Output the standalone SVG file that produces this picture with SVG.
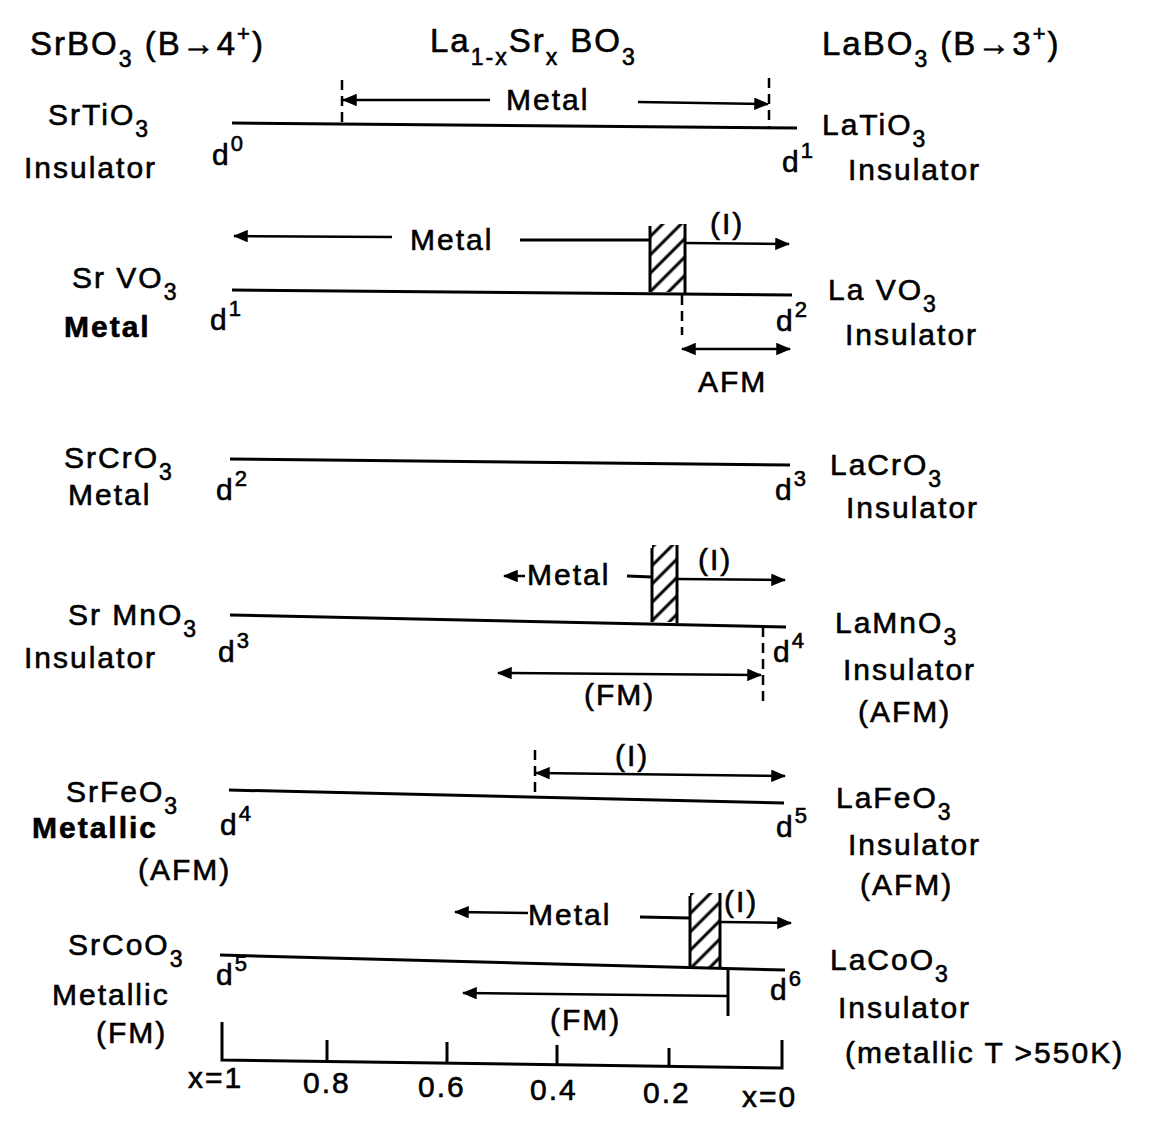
<svg xmlns="http://www.w3.org/2000/svg" width="1151" height="1123" viewBox="0 0 1151 1123">
<style>
text{font-family:"Liberation Sans","DejaVu Sans",sans-serif;font-size:30px;fill:#000;letter-spacing:2px;stroke:#000;stroke-width:0.6}
.hd{font-size:33px}
.sub{font-size:23px}
.sup{font-size:22px}
.ln{stroke:#000;stroke-width:3;fill:none}
.dash{stroke:#000;stroke-width:2.5;fill:none;stroke-dasharray:10 6}
.arr{stroke:#000;stroke-width:2.5;fill:none;marker-end:url(#ah)}
.arr2{stroke:#000;stroke-width:2.5;fill:none;marker-end:url(#ah);marker-start:url(#ah)}
.hatch{fill:url(#hp);stroke:none}
</style>
<defs>
<marker id="ah" viewBox="0 0 12 10" refX="11" refY="5" markerWidth="6" markerHeight="5" orient="auto-start-reverse" markerUnits="strokeWidth">
<path d="M0,0 L12,5 L0,10 z" fill="#000"/>
</marker>
<pattern id="hp" patternUnits="userSpaceOnUse" width="13" height="13" patternTransform="rotate(45)">
<line x1="3" y1="0" x2="3" y2="13" stroke="#000" stroke-width="3"/>
</pattern>
</defs>
<rect width="1151" height="1123" fill="#fff"/>

<g id="header">
<text class="hd" x="30" y="55">SrBO<tspan class="sub" dy="12">3</tspan><tspan dy="-12"> (B→4</tspan><tspan class="sup" dy="-14">+</tspan><tspan dy="14">)</tspan></text>
<text class="hd" x="430" y="52">La<tspan class="sub" dy="13">1-x</tspan><tspan dy="-13">Sr</tspan><tspan class="sub" dy="13">x</tspan><tspan dy="-13"> BO</tspan><tspan class="sub" dy="13">3</tspan></text>
<text class="hd" x="822" y="55">LaBO<tspan class="sub" dy="12">3</tspan><tspan dy="-12"> (B→3</tspan><tspan class="sup" dy="-14">+</tspan><tspan dy="14">)</tspan></text>
</g>

<g id="connectors">
<!-- Ti row -->
<line class="ln" x1="232" y1="123" x2="797" y2="128"/>
<line class="dash" x1="342" y1="80" x2="342" y2="123"/>
<line class="dash" x1="769" y1="78" x2="769" y2="127"/>
<line class="arr" x1="490" y1="100" x2="343" y2="100"/>
<line class="arr" x1="638" y1="102" x2="768" y2="104"/>
<!-- V row -->
<line class="arr" x1="392" y1="237" x2="234" y2="236"/>
<line class="ln" x1="520" y1="240" x2="650" y2="240"/>
<line class="arr" x1="685" y1="243" x2="789" y2="244"/>
<line class="ln" x1="232" y1="290" x2="792" y2="295"/>
<line class="dash" x1="682" y1="295" x2="682" y2="335"/>
<line class="arr2" x1="682" y1="349" x2="790" y2="349"/>
<!-- Cr row -->
<line class="ln" x1="230" y1="459" x2="790" y2="465"/>
<!-- Mn row -->
<line class="arr" x1="525" y1="576" x2="504" y2="576"/>
<line class="ln" x1="627" y1="576" x2="652" y2="577"/>
<line class="arr" x1="677" y1="579" x2="785" y2="580"/>
<line class="ln" x1="230" y1="615" x2="786" y2="627"/>
<line class="dash" x1="763" y1="627" x2="763" y2="702"/>
<line class="arr2" x1="498" y1="673" x2="761" y2="675"/>
<!-- Fe row -->
<line class="dash" x1="535" y1="750" x2="535" y2="798"/>
<line class="arr2" x1="536" y1="773" x2="785" y2="776"/>
<line class="ln" x1="229" y1="790" x2="784" y2="803"/>
<!-- Co row -->
<line class="arr" x1="528" y1="913" x2="455" y2="912"/>
<line class="ln" x1="640" y1="917" x2="690" y2="918"/>
<line class="arr" x1="720" y1="922" x2="791" y2="923"/>
<line class="ln" x1="220" y1="955" x2="785" y2="970"/>
<line class="ln" x1="728" y1="970" x2="728" y2="1016"/>
<line class="arr" x1="728" y1="996" x2="463" y2="993"/>
<!-- axis -->
<polyline class="ln" points="222,1022 222,1060 782,1068 782,1040"/>
<line class="ln" x1="327" y1="1040" x2="327" y2="1062"/>
<line class="ln" x1="447" y1="1042" x2="447" y2="1063"/>
<line class="ln" x1="557" y1="1045" x2="557" y2="1065"/>
<line class="ln" x1="669" y1="1048" x2="669" y2="1067"/>
</g>

<g id="hatched-regions">
<rect class="hatch" x="650" y="224" width="35" height="68"/>
<line class="ln" x1="650" y1="226" x2="650" y2="292"/>
<line class="ln" x1="685" y1="224" x2="685" y2="293"/>
<rect class="hatch" x="652" y="545" width="25" height="77"/>
<line class="ln" x1="652" y1="548" x2="652" y2="622"/>
<line class="ln" x1="677" y1="545" x2="677" y2="623"/>
<rect class="hatch" x="690" y="893" width="30" height="75"/>
<line class="ln" x1="690" y1="896" x2="690" y2="967"/>
<line class="ln" x1="720" y1="893" x2="720" y2="968"/>
</g>

<g id="row-Ti">
<text x="48" y="125">SrTiO<tspan class="sub" dy="12">3</tspan></text>
<text x="24" y="178">Insulator</text>
<text x="212" y="165">d<tspan class="sup" dy="-14">0</tspan></text>
<text x="782" y="172">d<tspan class="sup" dy="-14">1</tspan></text>
<text x="822" y="135">LaTiO<tspan class="sub" dy="12">3</tspan></text>
<text x="848" y="180">Insulator</text>
<text x="506" y="110">Metal</text>
</g>

<g id="row-V">
<text x="72" y="288">Sr VO<tspan class="sub" dy="12">3</tspan></text>
<text x="64" y="337" font-weight="bold">Metal</text>
<text x="210" y="330">d<tspan class="sup" dy="-14">1</tspan></text>
<text x="776" y="331">d<tspan class="sup" dy="-14">2</tspan></text>
<text x="828" y="300">La VO<tspan class="sub" dy="12">3</tspan></text>
<text x="845" y="345">Insulator</text>
<text x="410" y="250">Metal</text>
<text x="710" y="234">(I)</text>
<text x="698" y="392">AFM</text>
</g>

<g id="row-Cr">
<text x="64" y="468">SrCrO<tspan class="sub" dy="12">3</tspan></text>
<text x="68" y="505">Metal</text>
<text x="216" y="500">d<tspan class="sup" dy="-14">2</tspan></text>
<text x="775" y="500">d<tspan class="sup" dy="-14">3</tspan></text>
<text x="830" y="475">LaCrO<tspan class="sub" dy="12">3</tspan></text>
<text x="846" y="518">Insulator</text>
</g>

<g id="row-Mn">
<text x="68" y="625">Sr MnO<tspan class="sub" dy="12">3</tspan></text>
<text x="24" y="668">Insulator</text>
<text x="218" y="662">d<tspan class="sup" dy="-14">3</tspan></text>
<text x="773" y="662">d<tspan class="sup" dy="-14">4</tspan></text>
<text x="835" y="633">LaMnO<tspan class="sub" dy="12">3</tspan></text>
<text x="843" y="680">Insulator</text>
<text x="858" y="722">(AFM)</text>
<text x="527" y="585">Metal</text>
<text x="698" y="570">(I)</text>
<text x="584" y="705">(FM)</text>
</g>

<g id="row-Fe">
<text x="66" y="802">SrFeO<tspan class="sub" dy="12">3</tspan></text>
<text x="32" y="838" font-weight="bold">Metallic</text>
<text x="138" y="880">(AFM)</text>
<text x="220" y="835">d<tspan class="sup" dy="-14">4</tspan></text>
<text x="776" y="837">d<tspan class="sup" dy="-14">5</tspan></text>
<text x="836" y="808">LaFeO<tspan class="sub" dy="12">3</tspan></text>
<text x="848" y="855">Insulator</text>
<text x="860" y="895">(AFM)</text>
<text x="615" y="766">(I)</text>
</g>

<g id="row-Co">
<text x="68" y="955">SrCoO<tspan class="sub" dy="12">3</tspan></text>
<text x="52" y="1005">Metallic</text>
<text x="96" y="1043">(FM)</text>
<text x="216" y="985">d<tspan class="sup" dy="-14">5</tspan></text>
<text x="770" y="1000">d<tspan class="sup" dy="-14">6</tspan></text>
<text x="830" y="970">LaCoO<tspan class="sub" dy="12">3</tspan></text>
<text x="838" y="1018">Insulator</text>
<text x="845" y="1063">(metallic T &gt;550K)</text>
<text x="528" y="925">Metal</text>
<text x="724" y="912">(I)</text>
<text x="550" y="1030">(FM)</text>
</g>

<g id="axis-labels">
<text x="188" y="1088">x=1</text>
<text x="303" y="1093">0.8</text>
<text x="418" y="1097">0.6</text>
<text x="530" y="1100">0.4</text>
<text x="643" y="1103">0.2</text>
<text x="742" y="1107">x=0</text>
</g>
</svg>
